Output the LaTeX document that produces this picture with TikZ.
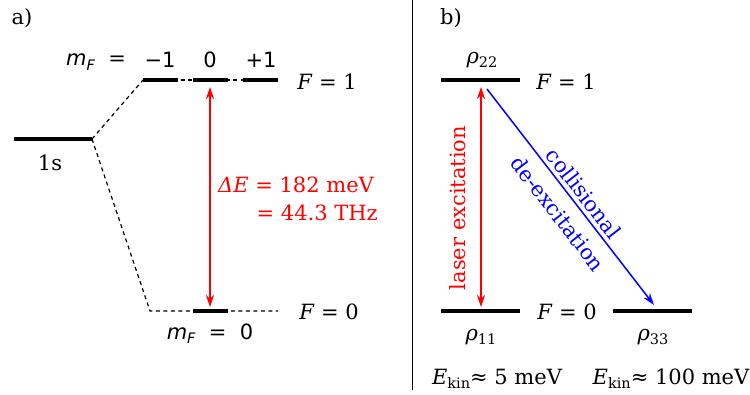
\documentclass[tikz,border=0pt]{standalone}
\usepackage{fontspec}
\setmainfont{DejaVu Serif}
\newfontfamily\dvs{DejaVu Sans}
\usetikzlibrary{arrows.meta}
\newcommand\lowsub[1]{\raisebox{-0.4ex}{\fontsize{14.5}{14.5}\selectfont #1}}
\newcommand\mF{{\dvs\itshape m}\lowsub{\dvs\itshape F}}
\begin{document}
\begin{tikzpicture}[x=1pt,y=-1pt,
  >={Stealth[length=12pt,width=8pt,inset=4pt]},
  lvl/.style={line width=4pt},
  dline/.style={line width=1.2pt, dash pattern=on 4pt off 3.5pt},
  txt/.style={inner sep=0pt, font=\fontsize{21}{24}\selectfont},
  redarr/.style={red, line width=1.5pt, <->},
  bluearr/.style={blue, line width=1.5pt, ->}]
\useasboundingbox (0,0) rectangle (750,394);
% separator
\coordinate (sepT) at (412,0);
\coordinate (sepB) at (412,390);
\draw[line width=1pt] (sepT) -- (sepB);
% ---------- panel a ----------
\node[txt] (la) at (22,18) {a)};
\coordinate (s1L) at (14,139);
\coordinate (s1R) at (92,139);
\draw[lvl] (s1L) -- (s1R);
\node[txt] (s1) at (50,163) {1s};
% top F=1 sublevels
\coordinate (tA) at (143,80);
\coordinate (tAe) at (178,80);
\coordinate (tB) at (193,80);
\coordinate (tBe) at (228,80);
\coordinate (tC) at (243,80);
\coordinate (tCe) at (278,80);
\draw[dline] (tA) -- (tCe);
\draw[lvl] (tA) -- (tAe);
\draw[lvl] (tB) -- (tBe);
\draw[lvl] (tC) -- (tCe);
\draw[dline] (s1R) -- (tA);
% bottom F=0
\coordinate (bL) at (150,311);
\coordinate (bA) at (193,311);
\coordinate (bB) at (228,311);
\coordinate (bR) at (278,311);
\draw[dline] (s1R) -- (bL) -- (bR);
\draw[lvl] (bA) -- (bB);
% labels
\node[txt] (mfeq) at (96,62) {\mF\ \ =};
\node[txt] (mm1) at (160,60) {\dvs −1};
\node[txt] (m0) at (210,60) {\dvs 0};
\node[txt] (mp1) at (261,60) {\dvs +1};
\node[txt] (Fa1) at (327,82) {\textit{F} = 1};
\node[txt] (Fa0) at (329,312) {\textit{F} = 0};
\node[txt] (mf0) at (210,334) {\mF\ \ =\ \ {\dvs 0}};
% transition
\coordinate (aT) at (210,87);
\coordinate (aB) at (210,307);
\draw[redarr] (aB) -- (aT);
\node[txt, red, anchor=west] (dE1) at (218,185) {\textit{ΔE} = 182 meV};
\node[txt, red, anchor=east] (dE2) at (378,213) {= 44.3 THz};
% ---------- panel b ----------
\node[txt] (lb) at (451,18) {b)};
\coordinate (u1) at (441,80);
\coordinate (u2) at (520,80);
\draw[lvl] (u1) -- (u2);
\coordinate (g1) at (441,311);
\coordinate (g2) at (520,311);
\draw[lvl] (g1) -- (g2);
\coordinate (h1) at (613,311);
\coordinate (h2) at (692,311);
\draw[lvl] (h1) -- (h2);
\node[txt] (r22) at (482,60) {\textit{ρ}\lowsub{22}};
\node[txt] (r11) at (481,337) {\textit{ρ}\lowsub{11}};
\node[txt] (r33) at (653,337) {\textit{ρ}\lowsub{33}};
\node[txt] (Fb1) at (566,82) {\textit{F} = 1};
\node[txt] (Fb0) at (567,312) {\textit{F} = 0};
\coordinate (lT) at (481,87);
\coordinate (lB) at (481,307);
\draw[redarr] (lB) -- (lT);
\node[txt, red, rotate=90] (laser) at (458,208) {laser excitation};
\coordinate (cS) at (487,89);
\coordinate (cE) at (654,305);
\draw[bluearr] (cS) -- (cE)
  node[txt, blue, pos=0.52, sloped, anchor=south, yshift=4pt] (coll) {collisional}
  node[txt, blue, pos=0.52, sloped, anchor=north, yshift=-11pt] (deex) {de-excitation};
\node[txt] (ek1) at (497,379) {\textit{E}\lowsub{kin}≈ 5 meV};
\node[txt] (ek2) at (671,379) {\textit{E}\lowsub{kin}≈ 100 meV};
\end{tikzpicture}
\end{document}
